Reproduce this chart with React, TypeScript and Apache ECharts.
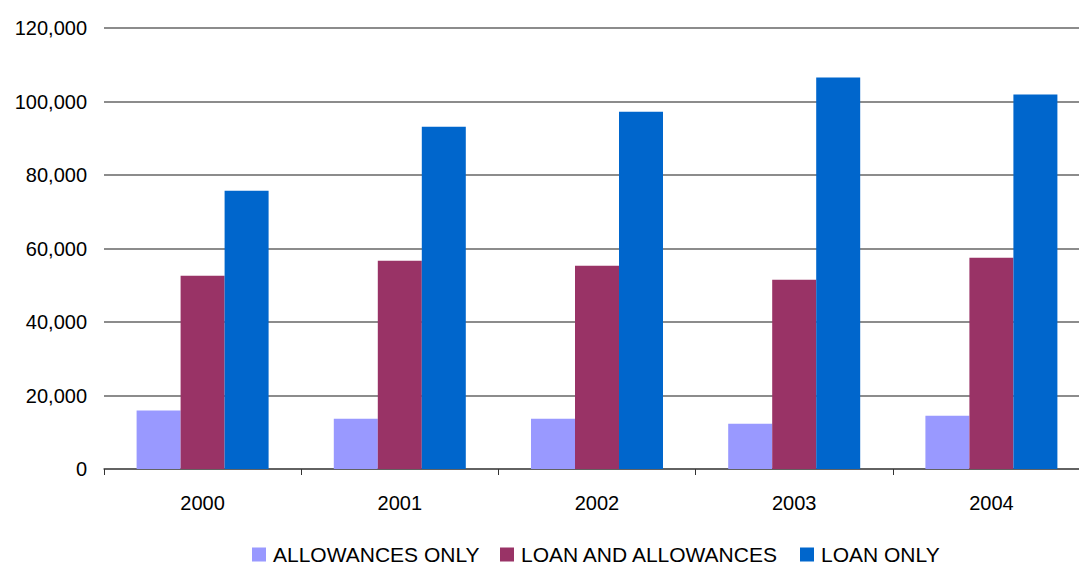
import React, { useEffect, useRef } from "react";
import * as echarts from "echarts";

const years = ["2000", "2001", "2002", "2003", "2004"];
const allowancesOnly = [15900, 13700, 13700, 12300, 14500];
const loanAndAllowances = [52600, 56700, 55300, 51500, 57500];
const loanOnly = [75700, 93100, 97200, 106500, 101900];
const seriesNames = ["ALLOWANCES ONLY", "LOAN AND ALLOWANCES", "LOAN ONLY"];
const seriesColors = ["#9999FF", "#993366", "#0066CC"];
const legendLefts = [252, 500, 800];

const FONT = "'Liberation Sans', Arial, sans-serif";

export default function App() {
  const ref = useRef<HTMLDivElement>(null);
  useEffect(() => {
    if (!ref.current) return;
    const chart = echarts.init(ref.current, null, { renderer: "svg" });
    const data = [allowancesOnly, loanAndAllowances, loanOnly];
    chart.setOption({
      animation: false,
      backgroundColor: "#ffffff",
      textStyle: { fontFamily: FONT },
      grid: {
        left: 104,
        width: 986,
        top: 28,
        height: 441,
        containLabel: false,
        outerBoundsMode: "none",
      },
      legend: seriesNames.map((name, i) => ({
        data: [name],
        left: legendLefts[i],
        top: 544,
        padding: 0,
        icon: "rect",
        itemWidth: 14,
        itemHeight: 14,
        textStyle: {
          fontFamily: FONT,
          fontSize: 21,
          lineHeight: 19,
          color: "#000",
          padding: [0, 0, 0, 2],
        },
      })),
      xAxis: {
        type: "category",
        data: years,
        axisLine: { show: true, lineStyle: { color: "#555", width: 1.5 } },
        axisTick: { show: true, length: 6, alignWithLabel: false, lineStyle: { color: "#333" } },
        axisLabel: { fontFamily: FONT, fontSize: 20, color: "#000", margin: 24 },
      },
      yAxis: {
        type: "value",
        min: 0,
        max: 120000,
        interval: 20000,
        axisLine: { show: false },
        axisTick: { show: false },
        splitLine: { show: true, lineStyle: { color: "#666", width: 1.5 } },
        axisLabel: {
          fontFamily: FONT,
          fontSize: 20,
          color: "#000",
          margin: 17,
          formatter: (v: number) => v.toLocaleString("en-US"),
        },
      },
      series: seriesNames.map((name, i) => ({
        name,
        type: "bar",
        data: data[i],
        barWidth: 44,
        barGap: "0%",
        itemStyle: { color: seriesColors[i] },
      })),
    });
    return () => chart.dispose();
  }, []);
  return (
    <div
      ref={ref}
      style={{ position: "absolute", left: 0, top: 0, width: 1079, height: 566 }}
    />
  );
}
